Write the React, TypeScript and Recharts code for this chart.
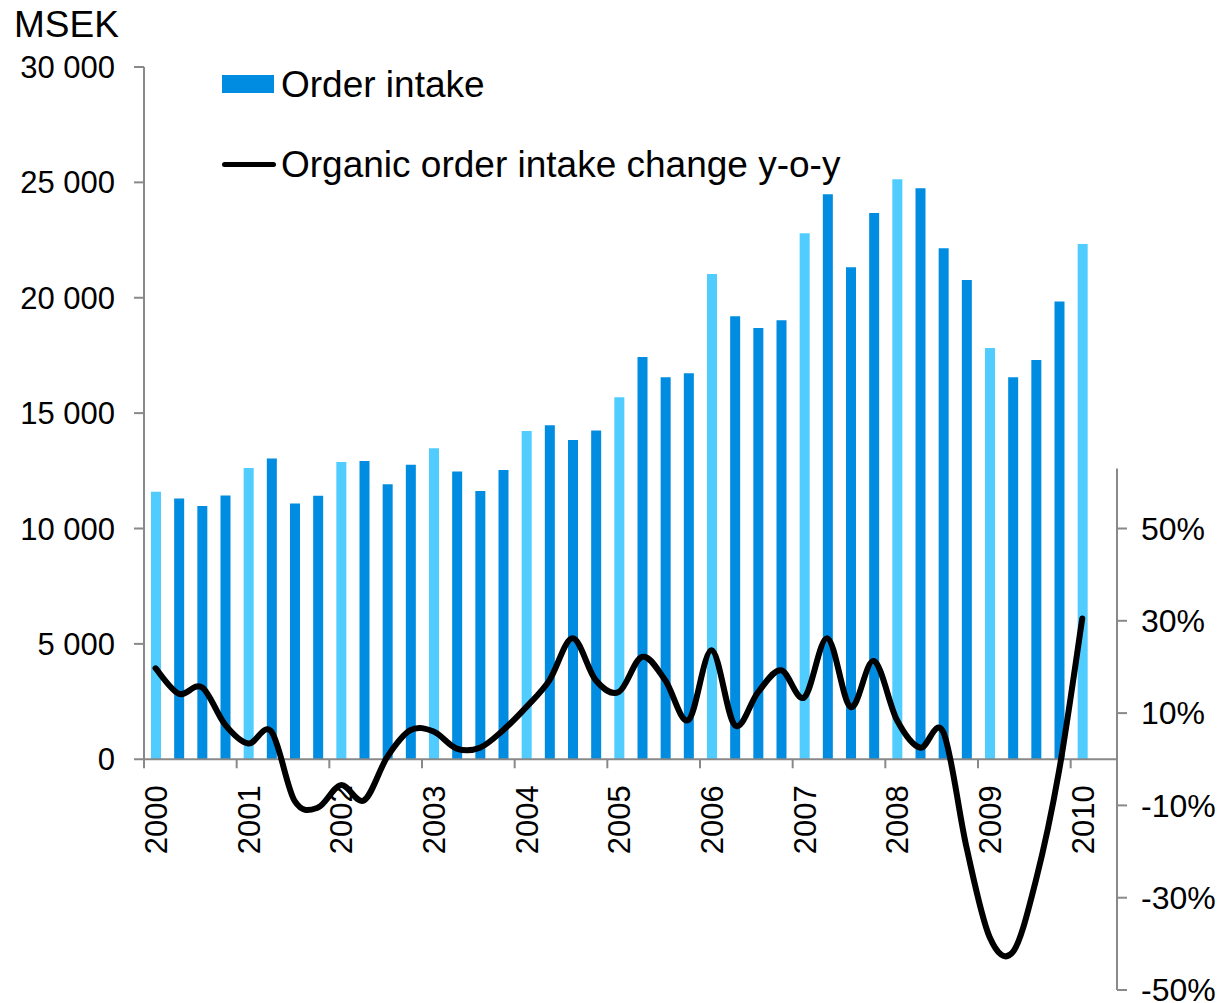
import React from 'react';
import {
  ComposedChart,
  Bar,
  Line,
  XAxis,
  YAxis,
  Cell,
  ReferenceLine,
  ReferenceDot,
  Legend,
} from 'recharts';

const FONT = '"Liberation Sans", Arial, Helvetica, sans-serif';
const DARK = '#008CE0';
const LIGHT = '#50CCFF';
const AXIS = '#898989';

const years = ['2000', '2001', '2002', '2003', '2004', '2005', '2006', '2007', '2008', '2009', '2010'];

const quarters = [
  '2000Q1', '2000Q2', '2000Q3', '2000Q4',
  '2001Q1', '2001Q2', '2001Q3', '2001Q4',
  '2002Q1', '2002Q2', '2002Q3', '2002Q4',
  '2003Q1', '2003Q2', '2003Q3', '2003Q4',
  '2004Q1', '2004Q2', '2004Q3', '2004Q4',
  '2005Q1', '2005Q2', '2005Q3', '2005Q4',
  '2006Q1', '2006Q2', '2006Q3', '2006Q4',
  '2007Q1', '2007Q2', '2007Q3', '2007Q4',
  '2008Q1', '2008Q2', '2008Q3', '2008Q4',
  '2009Q1', '2009Q2', '2009Q3', '2009Q4',
  '2010Q1',
];

// MSEK
const orderIntake = [
  11590, 11300, 10970, 11430,
  12620, 13030, 11080, 11420,
  12880, 12930, 11920, 12760,
  13480, 12470, 11620, 12530,
  14220, 14470, 13830, 14250,
  15690, 17430, 16560, 16730,
  21030, 19200, 18690, 19020,
  22800, 24490, 21320, 23670,
  25140, 24740, 22150, 20770,
  17820, 16560, 17300, 19840,
  22330,
];

// organic order intake change y-o-y, %
const organicChange = [
  19.7, 14.2, 15.6, 7.5,
  3.4, 6.0, -9.0, -10.5,
  -5.6, -8.9, 0.5, 6.3,
  6.0, 2.3, 2.5, 6.3,
  11.3, 17.1, 26.2, 17.1,
  14.6, 22.2, 17.1, 8.5,
  23.6, 7.4, 14.5, 19.3,
  13.4, 26.2, 11.3, 21.3,
  8.5, 2.5, 5.9, -19.0,
  -38.5, -41.8, -26.2, -2.5,
  30.5,
];

const leftTicks = [0, 5000, 10000, 15000, 20000, 25000, 30000];
const rightTicks = [-50, -30, -10, 10, 30, 50];

const data = quarters.map((q, i) => ({
  x: i + 0.5,
  q,
  orders: orderIntake[i],
  change: organicChange[i],
}));

const yearLabelPos = years.map((y, k) => ({ year: y, x: k * 4 + 0.5 }));
const yearTickPos = years.map((_, k) => k * 4);

// Excel-like smoothed line (Catmull-Rom / cardinal tension 0)
function excelCurve(context: any) {
  let pts: number[][] = [];
  return {
    areaStart() {},
    areaEnd() {},
    lineStart() {
      pts = [];
    },
    point(x: number, y: number) {
      pts.push([+x, +y]);
    },
    lineEnd() {
      if (!pts.length) return;
      context.moveTo(pts[0][0], pts[0][1]);
      for (let i = 0; i < pts.length - 1; i++) {
        const p0 = pts[i - 1] || pts[i];
        const p1 = pts[i];
        const p2 = pts[i + 1];
        const p3 = pts[i + 2] || p2;
        context.bezierCurveTo(
          p1[0] + (p2[0] - p0[0]) / 6,
          p1[1] + (p2[1] - p0[1]) / 6,
          p2[0] - (p3[0] - p1[0]) / 6,
          p2[1] - (p3[1] - p1[1]) / 6,
          p2[0],
          p2[1]
        );
      }
    },
  };
}

const fmtThousands = (v: number) =>
  String(v).replace(/\B(?=(\d{3})+(?!\d))/g, ' ');

const renderLegend = () => (
  <div style={{ fontFamily: FONT, fontSize: 37, color: '#000', lineHeight: 1 }}>
    <div style={{ display: 'flex', alignItems: 'center', height: 40 }}>
      <div style={{ width: 52, height: 18, background: DARK, marginRight: 7 }} />
      <span style={{ whiteSpace: 'nowrap' }}>Order intake</span>
    </div>
    <div style={{ display: 'flex', alignItems: 'center', height: 40, marginTop: 40 }}>
      <div
        style={{ width: 54, height: 5, background: '#000', borderRadius: 3, marginRight: 5 }}
      />
      <span style={{ whiteSpace: 'nowrap' }}>Organic order intake change y-o-y</span>
    </div>
  </div>
);

export default function App() {
  return (
    <div style={{ position: 'absolute', left: 0, top: 0, background: '#fff' }}>
      <ComposedChart
        width={1225}
        height={1003}
        data={data}
        margin={{ top: 67, right: 0, bottom: 13, left: 0 }}
        style={{ fontFamily: FONT }}
      >
        <XAxis
          type="number"
          dataKey="x"
          domain={[0, 42]}
          allowDataOverflow
          hide
        />
        <YAxis
          yAxisId="left"
          orientation="left"
          width={144}
          domain={[-10000, 30000]}
          allowDataOverflow
          ticks={leftTicks}
          interval={0}
          axisLine={false}
          tickLine={{ stroke: AXIS, strokeWidth: 2 }}
          tickSize={10}
          tickMargin={19}
          tickFormatter={fmtThousands}
          tick={{ fill: '#000', fontSize: 31, fontFamily: FONT }}
          label={{
            content: (props: any) => {
              const vb = props.viewBox || { x: 0, y: 67 };
              return (
                <text
                  x={vb.x + 14}
                  y={vb.y - 30}
                  fontSize={37}
                  fontFamily={FONT}
                  fill="#000"
                >
                  MSEK
                </text>
              );
            },
          }}
        />
        <YAxis
          yAxisId="right"
          orientation="right"
          width={108}
          domain={[-50, 150]}
          allowDataOverflow
          ticks={rightTicks}
          interval={0}
          axisLine={false}
          tickLine={{ stroke: AXIS, strokeWidth: 2 }}
          tickSize={10}
          tickMargin={14}
          tickFormatter={(v: number) => `${v}%`}
          tick={{ fill: '#000', fontSize: 32, fontFamily: FONT }}
        />
        <Legend
          layout="vertical"
          align="center"
          verticalAlign="middle"
          wrapperStyle={{ top: 64, left: 222, width: 700 }}
          content={renderLegend}
        />
        <Bar
          yAxisId="left"
          dataKey="orders"
          barSize={10}
          isAnimationActive={false}
        >
          {data.map((d) => (
            <Cell key={d.q} fill={d.q.endsWith('Q1') ? LIGHT : DARK} />
          ))}
        </Bar>
        <ReferenceLine
          yAxisId="left"
          segment={[
            { x: 0, y: 0 },
            { x: 0, y: 30000 },
          ]}
          stroke={AXIS}
          strokeWidth={2}
        />
        <ReferenceLine yAxisId="left" y={0} stroke={AXIS} strokeWidth={2} />
        <ReferenceLine
          yAxisId="right"
          segment={[
            { x: 42, y: -50 },
            { x: 42, y: 63 },
          ]}
          stroke={AXIS}
          strokeWidth={2}
        />
        {yearTickPos.map((x) => (
          <ReferenceDot
            key={'t' + x}
            yAxisId="left"
            x={x}
            y={0}
            r={0}
            ifOverflow="visible"
            shape={(p: any) => (
              <line x1={p.cx} y1={p.cy} x2={p.cx} y2={p.cy + 9} stroke={AXIS} strokeWidth={2} />
            )}
          />
        ))}
        {yearLabelPos.map((yl) => (
          <ReferenceDot
            key={'l' + yl.year}
            yAxisId="left"
            x={yl.x}
            y={0}
            r={0}
            ifOverflow="visible"
            shape={(p: any) => (
              <text
                x={p.cx + 1}
                y={p.cy + 26}
                transform={`rotate(-90, ${p.cx + 1}, ${p.cy + 26})`}
                textAnchor="end"
                dominantBaseline="central"
                fontSize={31}
                fontFamily={FONT}
                fill="#000"
              >
                {yl.year}
              </text>
            )}
          />
        ))}
        <Line
          yAxisId="right"
          dataKey="change"
          type={excelCurve as any}
          stroke="#000"
          strokeWidth={6}
          strokeLinecap="round"
          strokeLinejoin="round"
          dot={false}
          activeDot={false}
          isAnimationActive={false}
        />
      </ComposedChart>
    </div>
  );
}
